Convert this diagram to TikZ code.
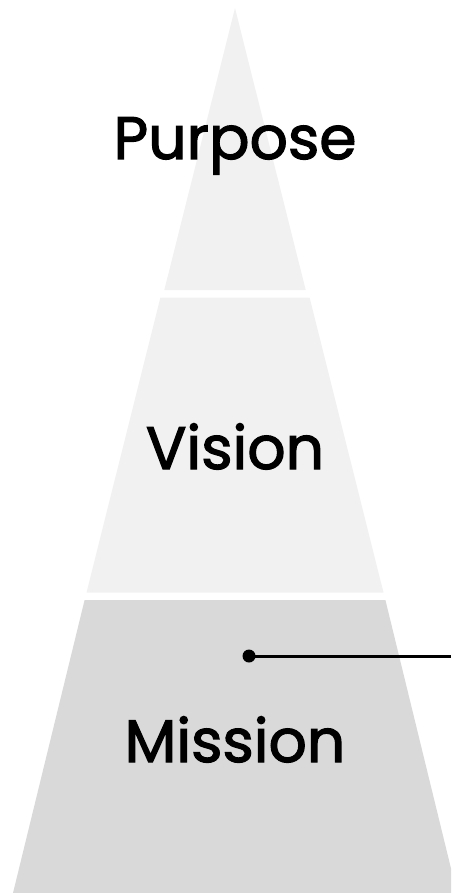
\documentclass[tikz,border=0pt]{standalone}
\usepackage{fontspec}
\setmainfont{Poppins}
\newfontfamily\labelfont[FakeBold=2]{Poppins}
\definecolor{lightseg}{HTML}{F1F1F1}
\definecolor{darkseg}{HTML}{D9D9D9}
\begin{document}
\begin{tikzpicture}[x=1pt,y=-1pt,
  seglabel/.style={anchor=base,font=\labelfont\fontsize{60}{60}\selectfont,text=black,inner sep=0pt}]
\useasboundingbox (0,0) rectangle (451,893);
\clip (0,0) rectangle (451,893);
% apex (235,8), slope 0.2508 per px
\fill[lightseg] (235,8) -- (305.7,290) -- (164.3,290) -- cycle;
\fill[lightseg] (160.4,297.5) -- (309.6,297.5) -- (383.5,592.5) -- (86.5,592.5) -- cycle;
\fill[darkseg] (84.6,600) -- (385.4,600) -- (457,893) -- (13,893) -- cycle;
\node[seglabel] (purpose) at (235,159) {Purpose};
\node[seglabel] (vision) at (235,469) {Vision};
\node[seglabel] (mission) at (235,762) {Mission};
\fill (249,656) circle (6.5) coordinate (dot);
\coordinate (lineend) at (451,656);
\draw[line width=3pt] (dot) -- (lineend);
\end{tikzpicture}
\end{document}
